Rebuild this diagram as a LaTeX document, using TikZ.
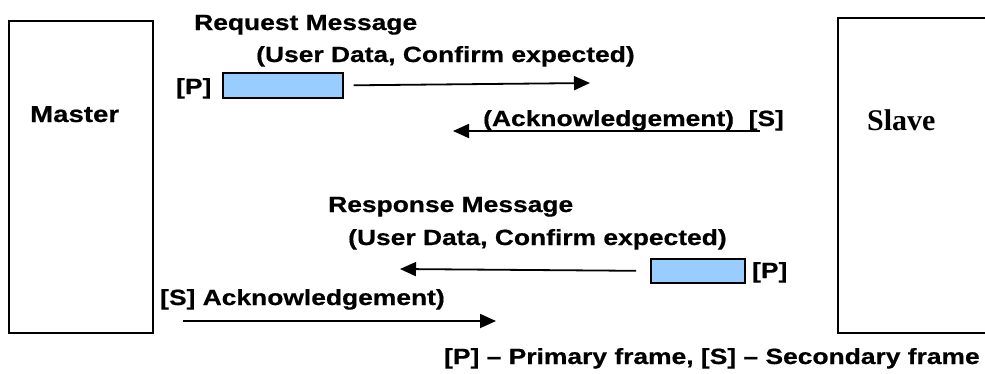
\documentclass[tikz,border=0pt]{standalone}
\usepackage{fontspec}
\usetikzlibrary{arrows.meta}
\setmainfont{Liberation Sans}
\newfontfamily\lblfont[FakeStretch=1.2,FakeBold=0.6]{Liberation Sans}
\newfontfamily\slavefont{Liberation Serif}
\definecolor{framefill}{HTML}{99CCFF}

\begin{document}
\begin{tikzpicture}[x=1pt,y=-1pt,
  lbl/.style={inner sep=0pt, anchor=base west,
    font=\lblfont\bfseries\fontsize{22}{26}\selectfont},
  party/.style={draw, line width=2pt, inner sep=0pt, anchor=north west},
  framebox/.style={draw, line width=1.6pt, fill=framefill, inner sep=0pt, anchor=north west},
  msg/.style={line width=1.8pt, -{Triangle[length=16pt,width=14pt]}}]

  % page area
  \clip (0,0) rectangle (985,373);
  \fill[white] (0,0) rectangle (985,373);

  % the two stations
  \node[party, minimum width=144pt, minimum height=312pt] (master) at (8,20) {};
  \node[party, minimum width=200pt, minimum height=315pt] (slave) at (837,17) {};
  \node[lbl, font=\lblfont\bfseries\fontsize{23}{27}\selectfont] (masterlbl) at (30,122) {Master};
  \node[inner sep=0pt, anchor=base west, font=\slavefont\bfseries\fontsize{30}{34}\selectfont] (slavelbl) at (867,130) {Slave};

  % request from master
  \node[lbl] (reqtitle) at (194,30) {Request Message};
  \node[lbl] (reqsub) at (256,62) {(User Data, Confirm expected)};
  \node[lbl] (reqP) at (176,94) {[P]};
  \node[framebox, minimum width=120pt, minimum height=25pt] (req) at (222,72) {};
  \coordinate (reqEnd) at (590,83);
  \draw[msg] ([xshift=10pt]req.east) -- (reqEnd);

  % acknowledgement from slave
  \node[lbl] (acktext) at (483,126) {(Acknowledgement)\ \ [S]};
  \coordinate (ackStart) at (760,131);
  \coordinate (ackEnd) at (453,131);
  \draw[msg] (ackStart) -- (ackEnd);

  % response from slave
  \node[lbl] (rsptitle) at (328,212) {Response Message};
  \node[lbl] (rspsub) at (348,245) {(User Data, Confirm expected)};
  \node[framebox, minimum width=94pt, minimum height=24pt] (rsp) at (650,258) {};
  \node[lbl] (rspP) at (752,278) {[P]};
  \coordinate (rspEnd) at (400,269);
  \draw[msg] ([xshift=-14pt]rsp.west) -- (rspEnd);

  % acknowledgement from master
  \node[lbl] (ack2text) at (160,305) {[S] Acknowledgement)};
  \coordinate (ack2Start) at (183,321);
  \coordinate (ack2End) at (496,321);
  \draw[msg] (ack2Start) -- (ack2End);

  % legend
  \node[lbl] (legend) at (444,364) {[P] – Primary frame, [S] – Secondary frame};
\end{tikzpicture}
\end{document}
